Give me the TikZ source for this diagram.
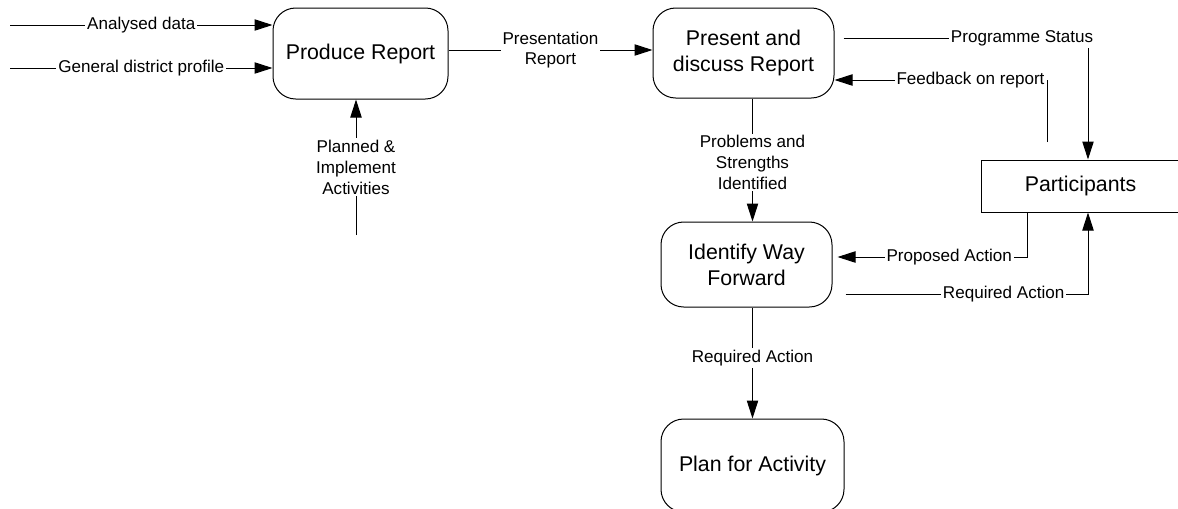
\documentclass[tikz,border=0pt]{standalone}
\usepackage{fontspec}
\setmainfont{Liberation Sans}
\usetikzlibrary{arrows.meta}
\begin{document}
\begin{tikzpicture}[x=0.75pt, y=-0.75pt,
  flow/.style={line width=0.75pt, -{Triangle[length=13.5pt, width=8.5pt]}},
  process/.style={draw, line width=0.75pt, rounded corners=17pt, align=center,
    font=\fontsize{16}{19.5}\selectfont, inner sep=0pt},
  entity/.style={draw, line width=0.75pt, align=center,
    font=\fontsize{16}{19.5}\selectfont, inner sep=0pt},
  lbl/.style={fill=white, inner sep=1.5pt, align=center,
    font=\fontsize{12.8}{15.5}\selectfont}]
\useasboundingbox (0,0) rectangle (1178,508);
\clip (0,0) rectangle (1178,508);

% processes and the external entity
\node[process, minimum width=131.25pt, minimum height=68.25pt] (prod) at (360.5,53.5) {Produce Report};
\node[process, minimum width=135.75pt, minimum height=67.5pt] (pres) at (743.5,53) {Present and\\discuss Report};
\node[process, minimum width=128.25pt, minimum height=63.75pt] (ident) at (746.5,264.5) {Identify Way\\Forward};
\node[process, minimum width=137.25pt, minimum height=69.75pt] (plan) at (752.5,465.5) {Plan for Activity};
\node[entity, minimum width=149.25pt, minimum height=39pt] (part) at (1080.5,186) {Participants};

% free ends of the incoming flows
\coordinate (ad) at (10,25);
\coordinate (gd) at (10,68);
\coordinate (pi) at (356,235);
\coordinate (fb) at (1047,142);
\coordinate (rowpr) at (0,50);
\coordinate (rowps) at (0,38);
\coordinate (rowfb) at (0,80);
\coordinate (rowpa) at (0,257);
\coordinate (rowra) at (0,294);
\coordinate (colpa) at (1027,0);
\coordinate (colps) at (1088,0);

% inputs to Produce Report
\draw[flow] (ad) -- node[lbl] {Analysed data} (prod.west |- ad);
\draw[flow] (gd) -- node[lbl] {General district profile} (prod.west |- gd);
\draw[flow] (pi) -- node[lbl] {Planned \&\\Implement\\Activities} (prod.south -| pi);

% report flow
\draw[flow] (prod.east |- rowpr) -- node[lbl] {Presentation\\Report} (pres.west |- rowpr);
\draw[flow] (pres.south -| plan.north) -- node[lbl, pos=0.52] {Problems and\\Strengths\\Identified} (ident.north -| plan.north);
\draw[flow] (ident.south -| plan.north) -- node[lbl, pos=0.455] {Required Action} (plan.north);

% exchanges with the participants
\draw[flow, shorten <=6.75pt] (pres.east |- rowps) -| node[lbl, pos=0.37] {Programme Status} (part.north -| colps);
\draw[flow] (fb) |- node[lbl, pos=0.68] {Feedback on report} (pres.east |- rowfb);
\draw[flow, shorten >=3.75pt] (part.south -| colpa) |- node[lbl, pos=0.70] {Proposed Action} (ident.east |- rowpa);
\draw[flow, shorten <=9.75pt] (ident.east |- rowra) -| node[lbl, pos=0.335] {Required Action} (part.south -| colps);
\end{tikzpicture}
\end{document}
